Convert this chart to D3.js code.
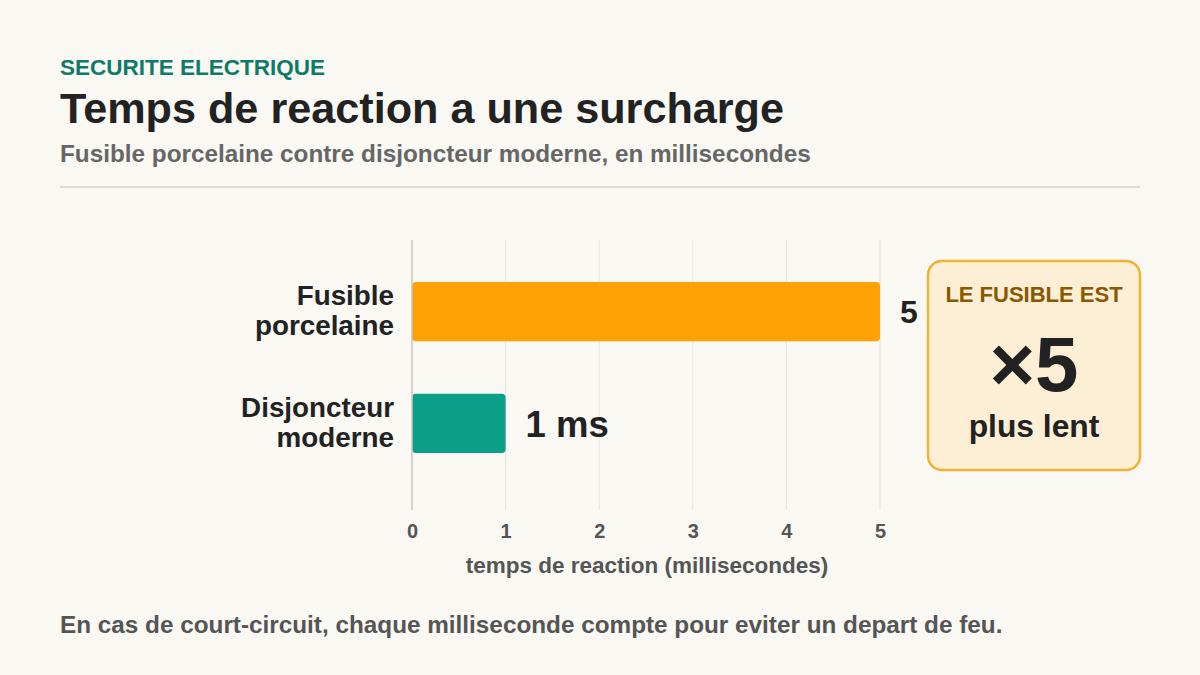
<body style="margin:0;background:#f9f8f3"></body>
<script src="https://d3js.org/d3.v7.min.js"></script>
<script>
    const categories = ["Fusible porcelaine", "Disjoncteur moderne"];
    const values = [5, 1];
    const valueLabels = ["5", "1 ms"];
    const barColors = ["#ffa106", "#0b9f8a"];
    const xTicks = [0, 1, 2, 3, 4, 5];

    const width = 1200, height = 675;
    const font = "'Liberation Sans', Arial, sans-serif";

    const svg = d3.select("body").append("svg")
        .attr("width", width)
        .attr("height", height)
        .style("font-family", font)
        .style("font-weight", "bold");

    svg.append("rect").attr("width", width).attr("height", height).attr("fill", "#f9f8f3");

    // header
    svg.append("text").attr("x", 60).attr("y", 75).attr("font-size", 22.5).attr("fill", "#0f7a68")
        .text("SECURITE ELECTRIQUE");
    svg.append("text").attr("x", 60).attr("y", 123).attr("font-size", 43.2).attr("fill", "#222")
        .text("Temps de reaction a une surcharge");
    svg.append("text").attr("x", 60).attr("y", 162).attr("font-size", 24.3).attr("fill", "#666")
        .text("Fusible porcelaine contre disjoncteur moderne, en millisecondes");
    svg.append("line").attr("x1", 60).attr("x2", 1140).attr("y1", 187).attr("y2", 187)
        .attr("stroke", "#d2d0cb").attr("stroke-width", 1.5);

    // scales
    const x = d3.scaleLinear().domain([0, 5]).range([412, 880]);
    const y = d3.scaleBand().domain(categories).range([240, 495]).paddingInner(0.47).paddingOuter(0.375);

    // grid
    svg.append("g").selectAll("line").data(xTicks.slice(1)).enter().append("line")
        .attr("x1", d => x(d)).attr("x2", d => x(d))
        .attr("y1", 240).attr("y2", 510)
        .attr("stroke", "#e6e4de").attr("stroke-width", 1);

    // bars
    svg.append("g").selectAll("rect").data(values).enter().append("rect")
        .attr("x", x(0))
        .attr("y", (d, i) => y(categories[i]))
        .attr("width", d => x(d) - x(0))
        .attr("height", y.bandwidth())
        .attr("rx", 4)
        .attr("fill", (d, i) => barColors[i]);

    // axis line
    svg.append("line").attr("x1", x(0)).attr("x2", x(0)).attr("y1", 240).attr("y2", 510)
        .attr("stroke", "#c8c6c0").attr("stroke-width", 1.5);

    // value labels
    svg.append("g").selectAll("text").data(values).enter().append("text")
        .attr("x", d => x(d) + 20)
        .attr("y", (d, i) => y(categories[i]) + y.bandwidth() / 2)
        .attr("dy", "0.36em")
        .attr("font-size", (d, i) => i === 0 ? 32 : 36.5)
        .attr("fill", "#222")
        .text((d, i) => valueLabels[i]);

    // category labels
    const catG = svg.append("g").selectAll("text").data(categories).enter().append("text")
        .attr("text-anchor", "end")
        .attr("font-size", 27.8)
        .attr("fill", "#222");
    catG.each(function (d) {
        const words = d.split(" ");
        const cy = y(d) + y.bandwidth() / 2;
        d3.select(this).selectAll("tspan").data(words).enter().append("tspan")
            .attr("x", 394)
            .attr("y", (w, i) => cy - 6.5 + i * 30)
            .text(w => w);
    });

    // x axis
    const xAxis = d3.axisBottom(x).tickValues(xTicks).tickSize(0).tickPadding(0).tickFormat(d3.format("d"));
    const ax = svg.append("g").attr("transform", "translate(0,538)").call(xAxis);
    ax.select(".domain").remove();
    ax.selectAll("text").attr("font-size", 20).attr("fill", "#555").attr("font-family", font)
        .attr("font-weight", "bold").attr("dy", 0).attr("y", 0);

    svg.append("text").attr("x", (x(0) + x(5)) / 2 + 1).attr("y", 573).attr("text-anchor", "middle")
        .attr("font-size", 22.5).attr("fill", "#555").text("temps de reaction (millisecondes)");

    // callout
    const cx = 1034;
    svg.append("rect").attr("x", 928).attr("y", 261).attr("width", 212).attr("height", 209)
        .attr("rx", 14).attr("fill", "#fdefd5").attr("stroke", "#f0b232").attr("stroke-width", 2.5);
    svg.append("text").attr("x", cx).attr("y", 302).attr("text-anchor", "middle")
        .attr("font-size", 22).attr("fill", "#8a5800").text("LE FUSIBLE EST");
    svg.append("text").attr("x", cx).attr("y", 391).attr("text-anchor", "middle")
        .attr("font-size", 78).attr("fill", "#222").text("×" + values[0] / values[1]);
    svg.append("text").attr("x", cx).attr("y", 437).attr("text-anchor", "middle")
        .attr("font-size", 31.8).attr("fill", "#222").text("plus lent");

    // footer
    svg.append("text").attr("x", 60).attr("y", 633).attr("font-size", 24.3).attr("fill", "#555")
        .text("En cas de court-circuit, chaque milliseconde compte pour eviter un depart de feu.");
</script>
